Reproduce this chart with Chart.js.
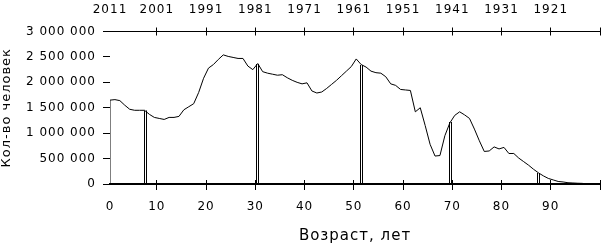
<!DOCTYPE html>
<html>
<head>
<meta charset="utf-8">
<script src="https://cdn.jsdelivr.net/npm/chart.js@4.4.1/dist/chart.umd.min.js"></script>
<style>
  html, body { margin: 0; padding: 0; background: #fff; }
</style>
</head>
<body>
<canvas id="pyramid" width="601" height="245"></canvas>
<script>
// population by single year of age (first pair draws the left edge from zero)
const ages = [0, 0, 1, 2, 3, 4, 5, 6, 7, 8, 9,
  10, 11, 12, 13, 14, 15, 16, 17, 18, 19,
  20, 21, 22, 23, 24, 25, 26, 27, 28, 29,
  30, 31, 32, 33, 34, 35, 36, 37, 38, 39,
  40, 41, 42, 43, 44, 45, 46, 47, 48, 49,
  50, 51, 52, 53, 54, 55, 56, 57, 58, 59,
  60, 61, 62, 63, 64, 65, 66, 67, 68, 69,
  70, 71, 72, 73, 74, 75, 76, 77, 78, 79,
  80, 81, 82, 83, 84, 85, 86, 87, 88, 89,
  90, 91, 92, 93, 94, 95, 96];
const population = [0, 1650000, 1660000, 1640000, 1550000, 1470000, 1450000, 1450000, 1450000, 1370000, 1310000,
  1290000, 1270000, 1310000, 1310000, 1330000, 1460000, 1520000, 1580000, 1800000, 2080000,
  2280000, 2350000, 2450000, 2540000, 2510000, 2490000, 2470000, 2470000, 2320000, 2250000,
  2370000, 2210000, 2180000, 2160000, 2140000, 2150000, 2090000, 2040000, 2000000, 1970000,
  1990000, 1830000, 1790000, 1810000, 1880000, 1960000, 2040000, 2130000, 2220000, 2310000,
  2460000, 2350000, 2300000, 2220000, 2190000, 2180000, 2110000, 1970000, 1940000, 1860000,
  1850000, 1840000, 1420000, 1500000, 1150000, 780000, 550000, 560000, 950000, 1200000,
  1350000, 1420000, 1360000, 1290000, 1080000, 850000, 640000, 650000, 730000, 690000,
  720000, 600000, 600000, 510000, 440000, 370000, 290000, 220000, 160000, 110000,
  80000, 50000, 40000, 25000, 20000, 15000, 12000];

// the double vertical marks
const markerAges = [7.71, 30.45, 51.57, 69.64, 87.51];
const markerValues = [1450000, 2360000, 2340000, 1220000, 216000];

// bottom axis: the first tick sits on the left edge (age 0 bin starts there)
const ageTickValues = [0.5, 10, 20, 30, 40, 50, 60, 70, 80, 90, 100];
const ageTickLabels = ['0', '10', '20', '30', '40', '50', '60', '70', '80', '90', ''];
const yearTickLabels = ['2011', '2001', '1991', '1981', '1971', '1961', '1951', '1941', '1931', '1921', ''];

const tickFont = { family: 'DejaVu Sans', size: 12 };

// ticks on the horizontal axes cross the axis line
const innerTicks = {
  id: 'innerTicks',
  afterDraw(chart) {
    const { ctx, chartArea, scales } = chart;
    ctx.save();
    ctx.strokeStyle = '#000';
    ctx.lineWidth = 1;
    [['x', chartArea.bottom, -4], ['x2', chartArea.top, 4]].forEach(([id, y0, len]) => {
      scales[id].ticks.forEach(t => {
        if (t.value < 1) return;
        const px = Math.round(scales[id].getPixelForValue(t.value) - 0.5) + 0.5;
        ctx.beginPath();
        ctx.moveTo(px, y0);
        ctx.lineTo(px, y0 + len);
        ctx.stroke();
      });
    });
    ctx.restore();
  }
};

// the original lettering is wide; spread it a little
const spacing = {
  id: 'spacing',
  beforeDraw(chart) { chart.ctx.letterSpacing = '1px'; }
};

const hideFirst = ctx => (ctx.tick && ctx.tick.value < 1) ? 'rgba(0,0,0,0)' : '#000';

new Chart(document.getElementById('pyramid'), {
  data: {
    datasets: [{
      type: 'line',
      data: ages.map((a, i) => ({ x: a + 0.5, y: population[i] })),
      borderColor: '#000',
      borderWidth: 1,
      pointRadius: 0,
      tension: 0,
      fill: false
    }, {
      type: 'bar',
      data: markerAges.map((a, i) => ({ x: a, y: markerValues[i] })),
      barThickness: 3,
      inflateAmount: 0,
      backgroundColor: 'rgba(0,0,0,0)',
      borderColor: '#000',
      borderWidth: { left: 1, right: 1, top: 0, bottom: 0 },
      borderSkipped: false
    }]
  },
  options: {
    responsive: false,
    animation: false,
    layout: { padding: { left: 0, right: 1, top: 0, bottom: 0 } },
    plugins: { legend: { display: false }, tooltip: { enabled: false } },
    scales: {
      x: {
        type: 'linear',
        position: 'bottom',
        offset: false,
        min: 0.5,
        max: 100,
        afterBuildTicks: s => { s.ticks = ageTickValues.map(v => ({ value: v })); },
        afterFit: s => { s.height = 61; s.paddingLeft = 0; s.paddingRight = 0; },
        ticks: {
          autoSkip: false,
          maxRotation: 0,
          padding: 10,
          color: '#000',
          font: tickFont,
          callback: (v, i) => ageTickLabels[i]
        },
        grid: { drawOnChartArea: false, offset: false, tickLength: 6, color: hideFirst },
        border: { display: true, color: '#000', width: 2 },
        title: {
          display: true,
          text: 'Возраст, лет',
          color: '#000',
          font: { family: 'DejaVu Sans', size: 15, lineHeight: 1.2 },
          padding: { top: 0, bottom: 0 }
        }
      },
      x2: {
        type: 'linear',
        position: 'top',
        offset: false,
        min: 0.5,
        max: 100,
        afterBuildTicks: s => { s.ticks = ageTickValues.map(v => ({ value: v })); },
        afterFit: s => { s.height = 31.5; s.paddingLeft = 0; s.paddingRight = 0; },
        ticks: {
          autoSkip: false,
          maxRotation: 0,
          padding: 10,
          color: '#000',
          font: tickFont,
          callback: (v, i) => yearTickLabels[i]
        },
        grid: { drawOnChartArea: false, offset: false, tickLength: 4, color: hideFirst },
        border: { display: true, color: '#000', width: 1 }
      },
      y: {
        min: 0,
        max: 3000000,
        afterFit: s => { s.width = 110; },
        ticks: {
          stepSize: 500000,
          padding: 7,
          color: '#000',
          font: tickFont,
          callback: v => String(v).replace(/\B(?=(\d{3})+(?!\d))/g, ' ')
        },
        grid: { drawOnChartArea: false, tickLength: 7, color: '#000' },
        border: { display: false },
        title: {
          display: true,
          text: 'Кол-во человек',
          color: '#000',
          font: { family: 'DejaVu Sans', size: 13, lineHeight: 1 },
          padding: { top: 0, bottom: 0 }
        }
      }
    }
  },
  plugins: [innerTicks, spacing]
});
</script>
</body>
</html>
